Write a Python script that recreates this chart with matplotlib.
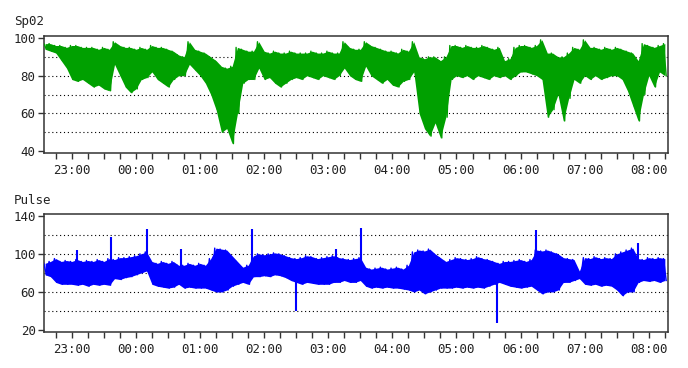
import matplotlib
matplotlib.use("Agg")
import matplotlib.pyplot as plt
import numpy as np

# time axis: minutes after 22:00, one sample every 5 minutes (22:35 .. 08:15)
t = np.arange(35, 616, 5)

spo2_lo = [94, 93, 92, 88, 84, 78, 77, 78, 76, 74, 75, 73, 72, 86, 80, 74, 71, 73, 78, 79,
           82, 78, 76, 74, 78, 80, 80, 86, 83, 80, 76, 70, 62, 50, 52, 44, 60, 76, 78, 78,
           84, 78, 79, 76, 74, 76, 78, 79, 78, 80, 79, 78, 80, 79, 78, 80, 84, 80, 78, 77,
           85, 80, 78, 76, 78, 75, 74, 77, 78, 82, 60, 52, 48, 55, 47, 58, 78, 80, 79, 80,
           78, 80, 79, 78, 80, 79, 80, 78, 80, 82, 82, 81, 80, 78, 58, 62, 70, 56, 68, 78,
           76, 80, 78, 80, 78, 79, 80, 80, 78, 72, 64, 56, 70, 80, 74, 82, 80]
spo2_hi = [97, 97, 96, 96, 95, 96, 96, 95, 95, 95, 94, 95, 94, 98, 96, 95, 95, 94, 95, 94,
           96, 95, 95, 94, 93, 91, 90, 98, 94, 93, 92, 90, 88, 85, 84, 85, 95, 94, 93, 93,
           98, 93, 92, 93, 92, 92, 93, 92, 92, 92, 93, 92, 92, 93, 92, 92, 98, 95, 94, 94,
           98, 96, 95, 94, 93, 93, 92, 94, 93, 98, 90, 89, 90, 90, 88, 90, 96, 96, 95, 96,
           95, 95, 96, 95, 94, 95, 88, 89, 95, 96, 96, 95, 96, 99, 92, 92, 90, 90, 92, 95,
           94, 99, 95, 95, 94, 95, 94, 95, 94, 93, 92, 88, 97, 96, 95, 96, 97]

pulse_lo = [78, 76, 70, 68, 68, 68, 67, 68, 66, 68, 67, 68, 67, 74, 73, 75, 76, 78, 80, 82,
            68, 66, 65, 64, 65, 68, 64, 65, 64, 64, 64, 62, 60, 60, 62, 66, 68, 70, 68, 76,
            76, 77, 76, 78, 77, 75, 72, 70, 68, 70, 69, 68, 68, 68, 70, 70, 72, 70, 70, 72,
            66, 64, 65, 64, 65, 64, 64, 63, 62, 60, 62, 58, 60, 62, 64, 64, 64, 65, 64, 65,
            64, 65, 64, 66, 68, 70, 68, 66, 65, 64, 65, 66, 62, 58, 60, 60, 62, 70, 70, 72,
            74, 68, 67, 68, 66, 67, 66, 62, 56, 60, 60, 70, 72, 71, 72, 70, 72]
pulse_hi = [90, 92, 95, 92, 93, 92, 94, 92, 93, 92, 94, 92, 95, 94, 96, 96, 97, 98, 100, 102,
            92, 90, 92, 90, 92, 88, 88, 90, 88, 90, 88, 95, 106, 105, 104, 98, 92, 86, 88, 98,
            100, 99, 100, 101, 100, 98, 96, 95, 96, 98, 97, 95, 96, 97, 98, 96, 95, 94, 95, 96,
            86, 84, 85, 86, 84, 85, 86, 84, 88, 102, 104, 103, 105, 100, 96, 92, 94, 96, 95, 94,
            95, 97, 95, 94, 92, 90, 92, 92, 93, 94, 92, 94, 104, 103, 104, 102, 100, 96, 95, 94,
            82, 96, 95, 97, 95, 96, 95, 100, 102, 104, 106, 95, 94, 96, 95, 96, 95]

# isolated pulse artefacts: (minute, value)
spike_t = [65, 97, 130, 162, 229, 270, 307, 331, 458, 494, 590]
spike_v = [104, 118, 126, 105, 126, 40, 105, 127, 27, 125, 111]

hour_ticks = np.arange(60, 601, 60)
hour_labels = ["23:00", "00:00", "01:00", "02:00", "03:00",
               "04:00", "05:00", "06:00", "07:00", "08:00"]

green = "#00a000"
blue = "#0000ff"
font = "DejaVu Sans Mono"

fig = plt.figure(figsize=(6.88, 3.68), dpi=100)
ax1 = fig.add_axes([0.064, 0.584, 0.907, 0.318])
ax2 = fig.add_axes([0.064, 0.098, 0.907, 0.321])

# interleave envelopes into a zigzag so the edges look like raw samples
tz = np.ravel(np.column_stack([t - 1.25, t + 1.25]))


def draw_band(ax, lo, hi, color):
    ax.fill_between(t, lo, hi, color=color, lw=0, zorder=3)
    zz = np.ravel(np.column_stack([hi, lo]))
    ax.plot(tz, zz, color=color, lw=1.0, zorder=3)


draw_band(ax1, spo2_lo, spo2_hi, green)
draw_band(ax2, pulse_lo, pulse_hi, blue)

mid = np.interp(spike_t, t, (np.array(pulse_lo) + np.array(pulse_hi)) / 2)
ax2.vlines(spike_t, mid, spike_v, color=blue, lw=1.5, zorder=3)

for ax, ylim, yticks, grid in [(ax1, (39, 101), [40, 60, 80, 100], [50, 60, 70, 80, 90]),
                               (ax2, (18, 142), [20, 60, 100, 140], [40, 60, 80, 100, 120])]:
    ax.set_xlim(34, 618)
    ax.set_ylim(*ylim)
    ax.set_yticks(yticks)
    ax.set_xticks(hour_ticks)
    ax.set_xticklabels(hour_labels)
    ax.set_xticks(np.arange(45, 616, 15), minor=True)
    for g in grid:
        ax.axhline(g, color="black", lw=0.8, ls=(0, (1, 2.5)), zorder=2)
    ax.tick_params(axis="both", which="both", direction="out", length=4,
                   width=1, color="#333333", pad=2)
    ax.tick_params(axis="x", which="major", pad=4)
    for lab in ax.get_xticklabels() + ax.get_yticklabels():
        lab.set_fontfamily(font)
        lab.set_fontsize(9)
        lab.set_color("#222222")
    for s in ax.spines.values():
        s.set_color("#333333")
        s.set_linewidth(1.1)

fig.text(14 / 688, 1 - 22 / 368, "Sp02", fontfamily=font, fontsize=9,
         va="center", ha="left", color="#222222")
fig.text(14 / 688, 1 - 201 / 368, "Pulse", fontfamily=font, fontsize=9,
         va="center", ha="left", color="#222222")

fig.savefig("out.png", dpi=100)
